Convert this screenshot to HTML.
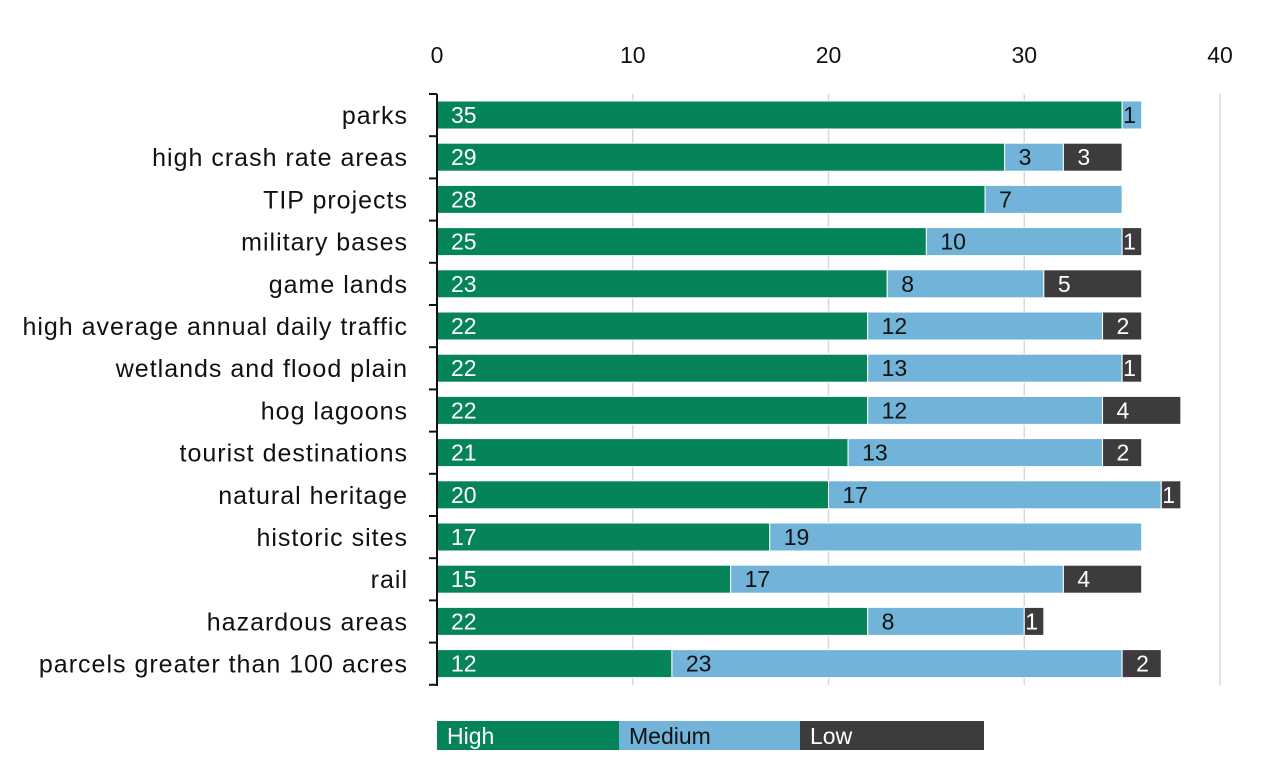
<!DOCTYPE html>
<html><head><meta charset="utf-8"><style>
body{margin:0;background:#fff;}
svg text{font-family:"Liberation Sans",sans-serif;font-size:23px;}
svg text.cat{font-size:25px;letter-spacing:1px;}
</style></head><body>
<svg width="1266" height="763">
<g id="grid"></g><g id="bars"></g><g id="axis"></g>
</svg>
<script>
const categories=["parks","high crash rate areas","TIP projects","military bases","game lands","high average annual daily traffic","wetlands and flood plain","hog lagoons","tourist destinations","natural heritage","historic sites","rail","hazardous areas","parcels greater than 100 acres"];
const high=[35,29,28,25,23,22,22,22,21,20,17,15,22,12];
const medium=[1,3,7,10,8,12,13,12,13,17,19,17,8,23];
const low=[0,3,0,1,5,2,1,4,2,1,0,4,1,2];
const ticks=[0,10,20,30,40];
const seriesNames=["High","Medium","Low"];
const colors=["#05845a","#72b4d9","#3d3b3e"];
const textColors=["#fff","#111","#fff"];
const NS="http://www.w3.org/2000/svg";
const x0=437,pxPerUnit=(1220-437)/40,top0=94,band=42.2;
const X=v=>x0+v*pxPerUnit;
function mk(t,a,p){const e=document.createElementNS(NS,t);for(const k in a)e.setAttribute(k,a[k]);p.appendChild(e);return e;}
const svg=document.querySelector('svg'),grid=document.getElementById('grid'),bars=document.getElementById('bars'),axis=document.getElementById('axis');
ticks.forEach(t=>{
 if(t>0){const l=mk('line',{x1:X(t),x2:X(t),y1:94,y2:685,stroke:'#d9d9d9','stroke-width':1.5},grid);
 
 }
 const tx=mk('text',{x:X(t),y:63,'text-anchor':'middle',fill:'#111'},axis);tx.textContent=t;
 
 
});
const series=[high,medium,low];
categories.forEach((c,i)=>{
 const yt=top0+i*band+7,h=28,yc=yt+h/2;
 let acc=0;
 series.forEach((s,j)=>{
  const v=s[i];if(!v)return;
  const r=mk('rect',{x:X(acc),y:yt,width:X(acc+v)-X(acc),height:h,fill:colors[j],stroke:'#fff','stroke-width':1},bars);
  
  
  const t=mk('text',{x:X(acc)+(v<2?1:14),y:yc+8,fill:textColors[j]},bars);t.textContent=v;
  
  
  acc+=v;
 });
 const lb=mk('text',{x:408,y:yc+9,'text-anchor':'end',fill:'#111','class':'cat'},axis);lb.textContent=c;
 
 
});
const ax=mk('line',{x1:437,x2:437,y1:94,y2:686,stroke:'#111','stroke-width':2},axis);


for(let k=0;k<=categories.length;k++){const y=top0+k*band;const tk=mk('line',{x1:429,x2:437,y1:y,y2:y,stroke:'#111','stroke-width':2},axis);
 
 }
const lx=[437,619,800,984];
seriesNames.forEach((n,j)=>{
 const r=mk('rect',{x:lx[j],y:721,width:lx[j+1]-lx[j],height:29,fill:colors[j]},svg);
 
 
 const t=mk('text',{x:lx[j]+10,y:744,fill:j==1?'#111':'#fff'},svg);t.textContent=n;
 
 
});
</script>
</body></html>
